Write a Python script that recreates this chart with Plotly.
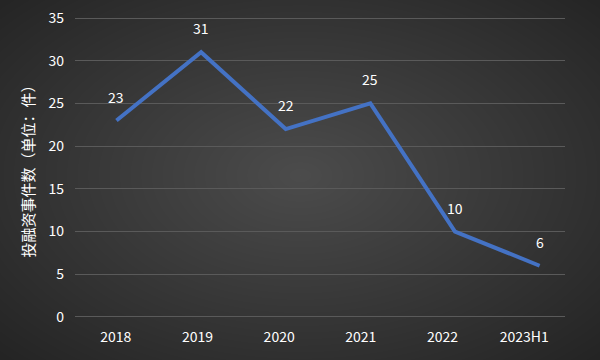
import base64, struct, zlib
import numpy as np
import plotly.graph_objects as go

categories = ["2018", "2019", "2020", "2021", "2022", "2023H1"]
values = [23, 31, 22, 25, 10, 6]
y_ticks = [0, 5, 10, 15, 20, 25, 30, 35]
y_title = "投融资事件数（单位：件）"

W, H = 600, 360
ML, MR, MT, MB = 75, 35, 17, 42
PW, PH = W - ML - MR, H - MT - MB

# radial gradient background as a PNG data URI
yy, xx = np.mgrid[0:H, 0:W]
t = np.sqrt(((xx - 300) / 300.0) ** 2 + ((yy - 175) / 185.0) ** 2) / np.sqrt(2)
t = np.clip(t, 0, 1)
img = (76 - t * 40).astype(np.uint8)
raw = b"".join(b"\x00" + img[r].tobytes() for r in range(H))
def chunk(tag, data):
    c = struct.pack(">I", len(data)) + tag + data
    return c + struct.pack(">I", zlib.crc32(tag + data) & 0xffffffff)
png = b"\x89PNG\r\n\x1a\n" + chunk(b"IHDR", struct.pack(">IIBBBBB", W, H, 8, 0, 0, 0, 0)) \
    + chunk(b"IDAT", zlib.compress(raw, 9)) + chunk(b"IEND", b"")
uri = "data:image/png;base64," + base64.b64encode(png).decode()

FONT = "Noto Sans CJK SC"
idx = list(range(len(categories)))

fig = go.Figure()
fig.add_trace(go.Scatter(x=idx, y=values, mode="lines",
                         line=dict(color="#4472C4", width=4),
                         hoverinfo="skip", showlegend=False))
# invisible trace on second x axis for category labels
fig.add_trace(go.Scatter(x=idx, y=values, xaxis="x2", mode="none",
                         hoverinfo="skip", showlegend=False))

for i, v in zip(idx, values):
    fig.add_annotation(x=i, y=v, text=str(v), showarrow=False, yshift=24,
                       font=dict(color="white", size=14, family=FONT))

fig.add_layout_image(dict(source=uri, xref="paper", yref="paper",
                          x=-ML / PW, y=1 + MT / PH, sizex=W / PW, sizey=H / PH,
                          xanchor="left", yanchor="top", sizing="stretch",
                          layer="below"))

fig.update_layout(
    width=W, height=H,
    margin=dict(l=ML, r=MR, t=MT, b=MB, autoexpand=False),
    paper_bgcolor="#2a2a2a",
    plot_bgcolor="rgba(0,0,0,0)",
    font=dict(family=FONT, color="white", size=14),
    xaxis=dict(range=[-0.49, 5.3], showgrid=False, zeroline=False,
               showticklabels=False, showline=False, automargin=False),
    xaxis2=dict(range=[-0.5, 5.5], overlaying="x", side="bottom",
                tickvals=idx, ticktext=categories, showgrid=False,
                zeroline=False, showline=False, ticks="", automargin=False,
                tickfont=dict(size=14, color="white", family=FONT),
                ticklabelstandoff=9),
    yaxis=dict(range=[-0.12, 35.12], tickvals=y_ticks, showgrid=True,
               gridcolor="#5a5a5a", gridwidth=1, zeroline=True,
               zerolinecolor="#5a5a5a", zerolinewidth=1,
               showline=False, ticks="", automargin=False,
               tickfont=dict(size=14, color="white", family=FONT),
               ticklabelstandoff=10,
               title=dict(text=y_title, font=dict(size=15, color="white", family=FONT),
                          standoff=10)),
)

fig.write_html("out.html", config={"displayModeBar": False},
               post_script="document.body.style.margin='0';document.body.style.background='#262626';")
